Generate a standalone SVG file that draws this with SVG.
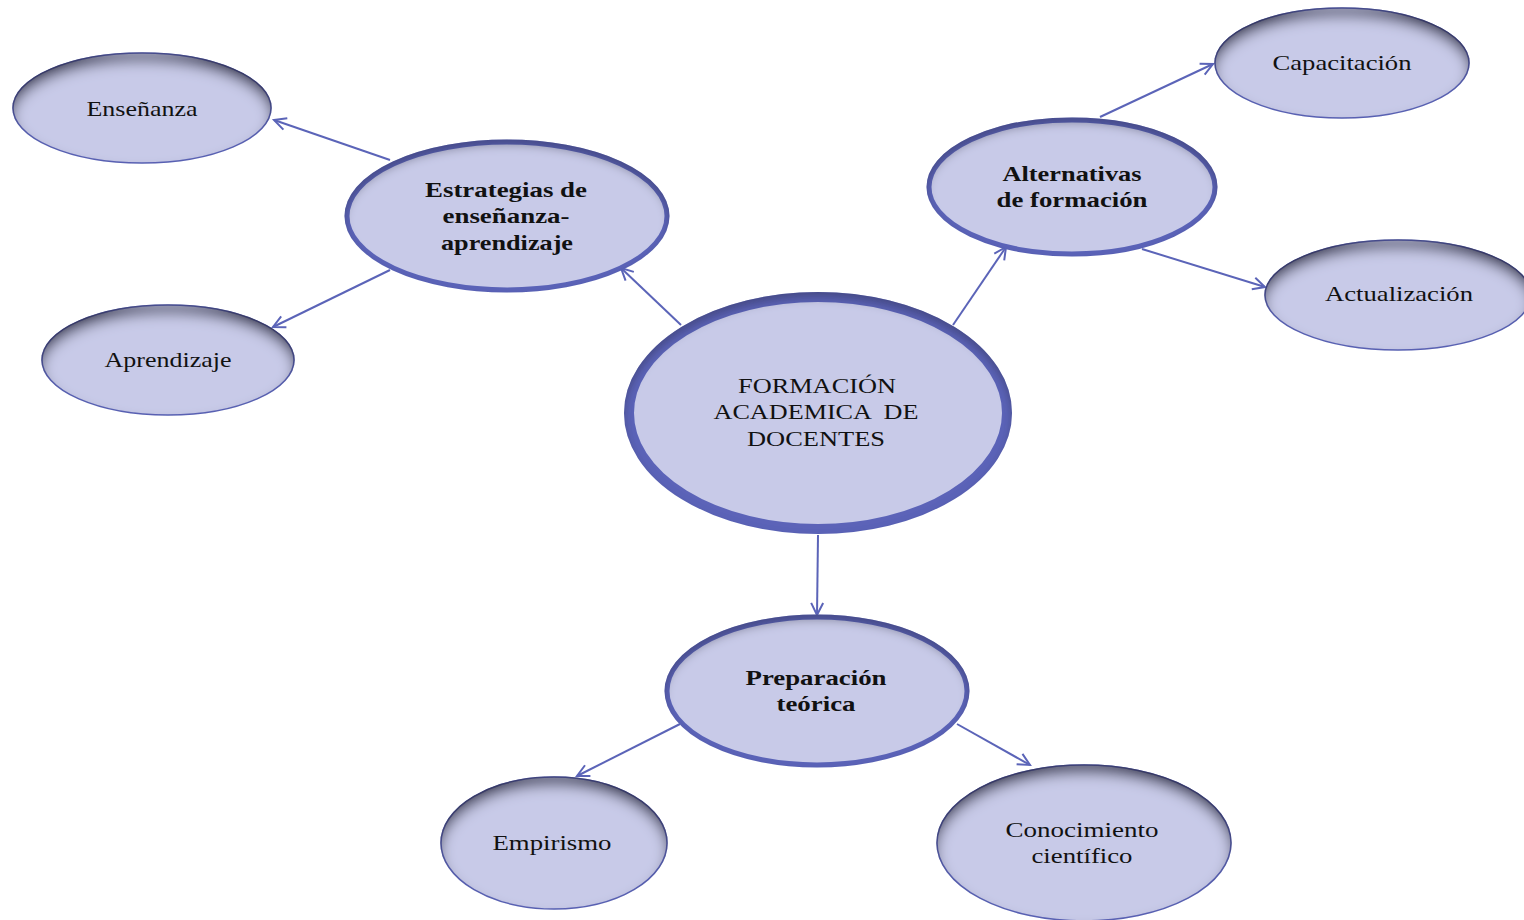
<svg xmlns="http://www.w3.org/2000/svg" width="1524" height="920" viewBox="0 0 1524 920">
<defs>
<style>
.leaf{fill:#c8cae8;stroke:#5b64b8;stroke-width:1.5;filter:url(#inner)}
.mid{fill:#c8cae8;stroke:#5b64b8;stroke-width:5;filter:url(#inner2)}
.main{fill:#c8cae8;stroke:#5b64b8;stroke-width:10;filter:url(#inner2)}
text{font-family:"Liberation Serif","Times New Roman",serif;font-size:22px;fill:#111;text-anchor:middle;white-space:pre}
.b{font-weight:bold;font-size:21.5px}
.c line{stroke:#5b64b8;stroke-width:2;marker-end:url(#arr)}
</style>
<filter id="inner" x="-10%" y="-10%" width="120%" height="120%">
<feFlood flood-color="#30334f"/>
<feComposite in2="SourceAlpha" operator="out"/>
<feGaussianBlur stdDeviation="7"/>
<feOffset dy="9"/>
<feComposite in2="SourceAlpha" operator="in" result="sh"/>
<feMerge><feMergeNode in="SourceGraphic"/><feMergeNode in="sh"/></feMerge>
</filter>
<filter id="inner2" x="-10%" y="-10%" width="120%" height="120%">
<feFlood flood-color="#30334f" flood-opacity="0.6"/>
<feComposite in2="SourceAlpha" operator="out"/>
<feGaussianBlur stdDeviation="5"/>
<feOffset dy="6"/>
<feComposite in2="SourceAlpha" operator="in" result="sh"/>
<feMerge><feMergeNode in="SourceGraphic"/><feMergeNode in="sh"/></feMerge>
</filter>
<marker id="arr" viewBox="0 0 16 16" refX="14" refY="8" markerWidth="16" markerHeight="16" markerUnits="userSpaceOnUse" orient="auto">
<polyline points="2,2 14,8 2,14" fill="none" stroke="#5b64b8" stroke-width="2"/>
</marker>
</defs>
<g class="c" id="connectors">
<line x1="390" y1="160" x2="274" y2="120"/>
<line x1="390" y1="270" x2="273" y2="327"/>
<line x1="681" y1="325" x2="621" y2="268"/>
<line x1="953" y1="325" x2="1006" y2="247"/>
<line x1="1100" y1="117" x2="1213" y2="64"/>
<line x1="1142" y1="249" x2="1265" y2="287"/>
<line x1="818" y1="535" x2="817" y2="615"/>
<line x1="680" y1="724" x2="577" y2="776"/>
<line x1="957" y1="724" x2="1030" y2="765"/>
</g>
<g id="ensenanza"><ellipse class="leaf" cx="142" cy="108" rx="129" ry="55"/><text x="142" y="116" textLength="111" lengthAdjust="spacingAndGlyphs">Enseñanza</text></g>
<g id="aprendizaje"><ellipse class="leaf" cx="168" cy="360" rx="126" ry="55"/><text x="168" y="367" textLength="127" lengthAdjust="spacingAndGlyphs">Aprendizaje</text></g>
<g id="estrategias"><ellipse class="mid" cx="507" cy="216" rx="160" ry="74"/><text class="b" x="506" y="197" textLength="162" lengthAdjust="spacingAndGlyphs">Estrategias de</text><text class="b" x="506" y="223" textLength="127" lengthAdjust="spacingAndGlyphs">enseñanza-</text><text class="b" x="507" y="250" textLength="132" lengthAdjust="spacingAndGlyphs">aprendizaje</text></g>
<g id="formacion"><ellipse class="main" cx="818" cy="413" rx="189" ry="116"/><text x="817" y="393" textLength="158" lengthAdjust="spacingAndGlyphs">FORMACIÓN</text><text x="816" y="419" textLength="205" lengthAdjust="spacingAndGlyphs">ACADEMICA  DE</text><text x="816" y="446" textLength="138" lengthAdjust="spacingAndGlyphs">DOCENTES</text></g>
<g id="alternativas"><ellipse class="mid" cx="1072" cy="187" rx="143" ry="67"/><text class="b" x="1072" y="181" textLength="139" lengthAdjust="spacingAndGlyphs">Alternativas</text><text class="b" x="1072" y="207" textLength="151" lengthAdjust="spacingAndGlyphs">de formación</text></g>
<g id="capacitacion"><ellipse class="leaf" cx="1342" cy="63" rx="127" ry="55"/><text x="1342" y="70" textLength="139" lengthAdjust="spacingAndGlyphs">Capacitación</text></g>
<g id="actualizacion"><ellipse class="leaf" cx="1398" cy="295" rx="133" ry="55"/><text x="1399" y="301" textLength="148" lengthAdjust="spacingAndGlyphs">Actualización</text></g>
<g id="preparacion"><ellipse class="mid" cx="817" cy="691" rx="150" ry="74"/><text class="b" x="816" y="685" textLength="141" lengthAdjust="spacingAndGlyphs">Preparación</text><text class="b" x="816" y="711" textLength="79" lengthAdjust="spacingAndGlyphs">teórica</text></g>
<g id="empirismo"><ellipse class="leaf" cx="554" cy="843" rx="113" ry="66"/><text x="552" y="850" textLength="119" lengthAdjust="spacingAndGlyphs">Empirismo</text></g>
<g id="conocimiento"><ellipse class="leaf" cx="1084" cy="843" rx="147" ry="78"/><text x="1082" y="837" textLength="153" lengthAdjust="spacingAndGlyphs">Conocimiento</text><text x="1082" y="863" textLength="101" lengthAdjust="spacingAndGlyphs">científico</text></g>
</svg>
